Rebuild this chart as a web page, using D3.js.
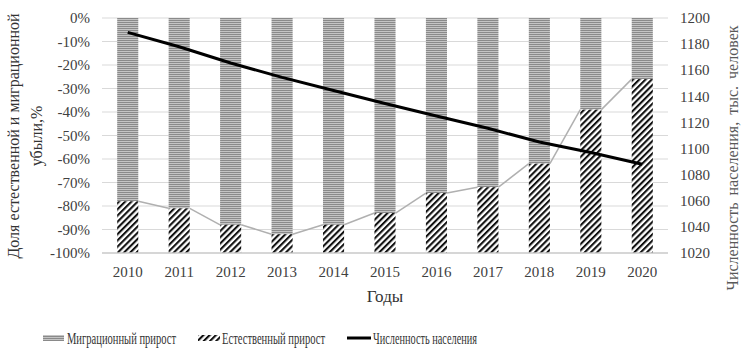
<!DOCTYPE html>
<html>
<head>
<meta charset="utf-8">
<script src="https://cdn.jsdelivr.net/npm/d3@7"></script>
<style>
	body { margin: 0; background: #fff; }
	svg { display: block; font-family: "Liberation Serif", "Times New Roman", serif; }
	.tick-label { fill: #404040; font-size: 15px; }
	.grid line { stroke: #d9d9d9; stroke-width: 1; }
</style>
</head>
<body>
<div class="chart"></div>
<script>
//---->DATA<-----//
const years = ['2010', '2011', '2012', '2013', '2014', '2015', '2016', '2017', '2018', '2019', '2020'];
// share of migration loss, % (upper part of each bar)
const migration = [78, 81, 88, 92, 88, 83, 74.5, 72, 62, 39, 26];
// share of natural loss, % (lower part of each bar)
const natural = [22, 19, 12, 8, 12, 17, 25.5, 28, 38, 61, 74];
// population, thousand people
const population = [1189, 1178, 1165.5, 1154.5, 1144.5, 1134.5, 1125, 1115.5, 1105, 1097, 1088];

const leftTicks = d3.range(0, -101, -10);
const rightTicks = d3.range(1020, 1201, 20);

const outerW = 750,
	outerH = 351;

const margin = { left: 102, right: 82, top: 18, bottom: 98 };
const w = outerW - margin.left - margin.right,
	h = outerH - margin.top - margin.bottom;

const svg = d3.select('.chart').append('svg')
	.attr('width', outerW)
	.attr('height', outerH);

// patterns
const defs = svg.append('defs');

const pMig = defs.append('pattern')
	.attr('id', 'mig')
	.attr('patternUnits', 'userSpaceOnUse')
	.attr('width', 4)
	.attr('height', 2);
pMig.append('rect').attr('width', 4).attr('height', 1).attr('fill', '#8a8a8a');
pMig.append('rect').attr('y', 1).attr('width', 4).attr('height', 1).attr('fill', '#c4c4c4');

const pNat = defs.append('pattern')
	.attr('id', 'nat')
	.attr('patternUnits', 'userSpaceOnUse')
	.attr('width', 4.4)
	.attr('height', 4.4)
	.attr('patternTransform', 'rotate(45)');
pNat.append('rect').attr('width', 4.4).attr('height', 4.4).attr('fill', '#fff');
pNat.append('line')
	.attr('x1', 1).attr('x2', 1)
	.attr('y1', 0).attr('y2', 4.4)
	.attr('stroke', '#111')
	.attr('stroke-width', 2.2);

const g = svg.append('g')
	.attr('transform', `translate(${margin.left}, ${margin.top})`);

// scales
const x = d3.scaleBand()
	.domain(years)
	.range([0, w])
	.paddingInner(0.59)
	.paddingOuter(0.295);

const y = d3.scaleLinear().domain([-100, 0]).range([h, 0]);
const yR = d3.scaleLinear().domain([1020, 1200]).range([h, 0]);

// grid
g.append('g')
	.attr('class', 'grid')
	.selectAll('line')
	.data(leftTicks.slice(0, -1))
	.enter().append('line')
	.attr('x1', 0)
	.attr('x2', w)
	.attr('y1', d => y(d))
	.attr('y2', d => y(d));

// left axis labels
g.append('g')
	.selectAll('text')
	.data(leftTicks)
	.enter().append('text')
	.attr('class', 'tick-label')
	.attr('x', -12)
	.attr('y', d => y(d))
	.attr('dy', '0.35em')
	.attr('text-anchor', 'end')
	.text(d => d + '%');

// right axis labels
g.append('g')
	.selectAll('text')
	.data(rightTicks)
	.enter().append('text')
	.attr('class', 'tick-label')
	.attr('x', w + 12)
	.attr('y', d => yR(d))
	.attr('dy', '0.35em')
	.attr('text-anchor', 'start')
	.text(d => d);

// bars: migration on top (0 → -migration), natural below
g.selectAll('.bar-mig')
	.data(years)
	.enter().append('rect')
	.attr('class', 'bar-mig')
	.attr('x', d => x(d))
	.attr('width', x.bandwidth())
	.attr('y', y(0))
	.attr('height', (d, i) => y(-migration[i]) - y(0))
	.attr('fill', 'url(#mig)');

g.selectAll('.bar-nat')
	.data(years)
	.enter().append('rect')
	.attr('class', 'bar-nat')
	.attr('x', d => x(d))
	.attr('width', x.bandwidth())
	.attr('y', (d, i) => y(-migration[i]))
	.attr('height', (d, i) => y(-migration[i] - natural[i]) - y(-migration[i]))
	.attr('fill', 'url(#nat)');

// series lines between stacks
const seriesLine = years.slice(0, -1).map((d, i) => [
	[x(d) + x.bandwidth(), y(-migration[i])],
	[x(years[i + 1]), y(-migration[i + 1])]
]);
g.append('g')
	.selectAll('line')
	.data(seriesLine)
	.enter().append('line')
	.attr('x1', d => d[0][0])
	.attr('y1', d => d[0][1])
	.attr('x2', d => d[1][0])
	.attr('y2', d => d[1][1])
	.attr('stroke', '#b0b0b0')
	.attr('stroke-width', 1.5);

// bottom axis line
g.append('line')
	.attr('x1', 0)
	.attr('x2', w)
	.attr('y1', h)
	.attr('y2', h)
	.attr('stroke', '#c8c8c8')
	.attr('stroke-width', 1.5);

// x labels
g.append('g')
	.selectAll('text')
	.data(years)
	.enter().append('text')
	.attr('class', 'tick-label')
	.attr('x', d => x(d) + x.bandwidth() / 2)
	.attr('y', h + 19)
	.attr('dy', '0.35em')
	.attr('text-anchor', 'middle')
	.text(d => d);

// population line
const line = d3.line()
	.x((d, i) => x(years[i]) + x.bandwidth() / 2)
	.y(d => yR(d));

g.append('path')
	.datum(population)
	.attr('d', line)
	.attr('fill', 'none')
	.attr('stroke', '#000')
	.attr('stroke-width', 3);

// axis titles
svg.append('text')
	.attr('x', 385)
	.attr('y', 296)
	.attr('dy', '0.35em')
	.attr('text-anchor', 'middle')
	.attr('fill', '#333')
	.style('font-size', '17px')
	.text('Годы');

const leftTitle = svg.append('text')
	.attr('transform', 'translate(0, 136) rotate(-90)')
	.attr('text-anchor', 'middle')
	.attr('fill', '#333')
	.style('font-size', '16px');
leftTitle.append('tspan').attr('x', 0).attr('y', 19).text('Доля естественной и миграционной');
leftTitle.append('tspan').attr('x', 0).attr('y', 42).text('убыли,%');

svg.append('text')
	.attr('transform', 'translate(738, 158) rotate(-90)')
	.attr('text-anchor', 'middle')
	.attr('fill', '#595959')
	.style('font-size', '16px')
	.style('word-spacing', '3px')
	.text('Численность населения, тыс. человек');

// legend
const legend = svg.append('g').attr('transform', 'translate(0, 338)');

legend.append('rect')
	.attr('x', 43).attr('y', -3)
	.attr('width', 21).attr('height', 6)
	.attr('fill', 'url(#mig)');
legend.append('rect')
	.attr('x', 198).attr('y', -3)
	.attr('width', 22).attr('height', 6)
	.attr('fill', 'url(#nat)');
legend.append('line')
	.attr('x1', 347).attr('x2', 371)
	.attr('y1', 0).attr('y2', 0)
	.attr('stroke', '#000')
	.attr('stroke-width', 3);

const legendItems = [
	{ x: 67, len: 109, label: 'Миграционный прирост' },
	{ x: 222, len: 103, label: 'Естественный прирост' },
	{ x: 373, len: 104, label: 'Численность населения' }
];
legend.selectAll('.leg-text')
	.data(legendItems)
	.enter().append('text')
	.attr('class', 'leg-text')
	.attr('x', d => d.x)
	.attr('y', 0)
	.attr('dy', '0.35em')
	.attr('fill', '#333')
	.attr('textLength', d => d.len)
	.attr('lengthAdjust', 'spacingAndGlyphs')
	.style('font-size', '16px')
	.text(d => d.label);
</script>
</body>
</html>
